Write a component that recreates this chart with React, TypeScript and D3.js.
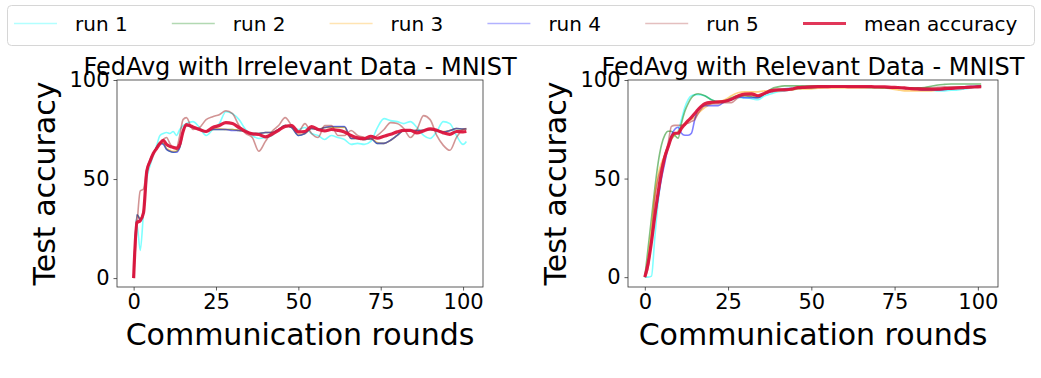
import { useEffect, useRef } from 'react';
import * as d3 from 'd3';

const width = 1041;
const height = 378;
const font = 'DejaVu Sans, sans-serif';

const rounds = [
  0, 1, 2, 3, 4, 5, 6, 7, 8, 9, 10, 11, 12, 13, 14, 15, 16,
  18, 20, 22, 24, 26, 28, 30, 32, 34, 36, 38, 40, 42, 44, 46, 48, 50, 52, 54, 56,
  58, 60, 62, 64, 66, 68, 70, 72, 74, 76, 78, 80, 82, 84, 86, 88, 90, 92, 94, 96,
  98, 100, 101,
];

const runLabels = ['run 1', 'run 2', 'run 3', 'run 4', 'run 5'];
const runColors = ['#00ffff', '#008000', '#ffa500', '#0000ff', '#a52a2a'];
const meanColor = '#dc143c';
const xTicks = [0, 25, 50, 75, 100];
const yTicks = [0, 50, 100];

// ---- FedAvg with Irrelevant Data ----
const irrRun1 = [
  0, 27, 14, 33, 50, 57, 62, 67, 72, 73, 73.5, 73, 74, 72, 75, 77, 78,
  79, 76, 72, 75, 78, 84, 83, 80, 75, 72, 70.5, 71, 72, 75, 77, 76, 75, 76, 73, 72,
  70, 72, 71, 70, 67.5, 68, 67.5, 69, 76, 80.5, 79.5, 79, 78, 79, 76, 72, 70.5, 74, 79, 78,
  72, 67.5, 69,
];
const irrRun2 = [
  0, 32, 30, 33, 54, 59, 63, 66, 68, 68, 65, 64, 63.5, 64, 66, 74, 77,
  76, 75, 74, 75, 75, 75, 75, 74.5, 74, 73, 73, 73.5, 73.5, 75, 77, 76, 72, 73, 75.5, 75,
  76, 76.3, 76.3, 76.3, 70.5, 70.5, 70, 70.5, 68, 68, 69.6, 72, 74.5, 74.5, 74.5, 74.6, 75, 74.5, 73.8, 74.5,
  75.5, 75.3, 75.3,
];
const irrRun3 = [
  0, 31, 30, 34, 53, 59, 63, 66, 68.5, 68, 65.5, 64.5, 64, 64, 66.5, 74, 77,
  76.5, 75, 74, 75, 75.5, 75, 75, 74.5, 74, 73, 73, 73.5, 73.5, 75, 77, 76, 72.5, 73, 75.5, 75,
  76, 76, 76, 76, 70.5, 70.5, 70, 70.5, 68.5, 68, 69.5, 72, 74.5, 74.5, 74.5, 74.5, 75, 74.5, 74, 74.5,
  75.5, 75, 75,
];
const irrRun4 = [
  0, 32, 29.5, 33, 54, 59.5, 63, 66, 68, 67.5, 65, 64, 63.5, 63.5, 66, 74.5, 77,
  76, 75, 74, 75, 75, 75, 74.5, 74.5, 74, 73, 73, 73.5, 73.5, 75, 77, 76, 72, 73, 75.5, 75,
  76, 76.5, 76.5, 76.5, 70.5, 70.5, 70, 70.5, 68, 68, 69.6, 72, 74.5, 74.5, 74.5, 74.6, 75, 74.5, 73.8, 74.5,
  75.5, 75.3, 75.3,
];
const irrRun5 = [
  0, 26, 44, 45, 55, 60, 63, 66, 68, 70, 71, 68, 66, 66, 72, 80, 81,
  75, 76, 80, 81.5, 82.5, 84.5, 83, 77, 73, 71, 64, 69, 74, 77, 81, 77, 74, 78, 73, 71,
  77, 77, 72, 72, 74.5, 72, 71, 70, 72, 75, 78.5, 78, 75.5, 71, 75, 82, 80, 72, 67, 64.5,
  71, 75, 75.5,
];
const irrMean = [
  0, 28, 29, 33, 54, 59, 63, 65.5, 68, 69.5, 67.5, 66.5, 66, 65.5, 67.5, 74, 77.5,
  76.3, 75, 74, 76, 77, 78.5, 78, 76, 74, 72.8, 72.5, 71.3, 72.6, 74.6, 76.6, 77, 73.8, 74, 76.5, 75,
  74.3, 75, 74.6, 73.8, 72, 70.8, 70.4, 71.6, 70.6, 71.6, 72.6, 73.8, 74.6, 74.6, 73.3, 74.3, 75.3, 74.6, 73.3, 72.6,
  74, 73.8, 74,
];

// ---- FedAvg with Relevant Data ----
const relRun1 = [
  0, 0, 0.5, 20, 38, 52, 60, 66, 70, 72, 74, 80, 86, 90, 92, 92.5, 92.5,
  92, 90, 89, 89, 90, 91, 91, 90.5, 90, 92, 93, 94, 94.5, 95, 95.5, 95.8, 96, 96.3, 96.5, 96.5,
  96.5, 96.5, 96.5, 96.3, 96.2, 96, 96, 96, 96, 96, 96, 95.8, 95.5, 95, 95, 94.5, 94.5, 94.8, 95, 95.5,
  96, 96.5, 96.5,
];
const relRun2 = [
  0, 15, 30, 45, 58, 67, 72, 74, 74, 72, 70.5, 78, 84, 88, 91, 92.5, 93,
  92, 90, 89, 89.5, 91, 92, 92, 91.5, 91, 93, 95.5, 96.5, 97, 97, 97, 97, 97, 97, 97, 96.8,
  96.8, 96.8, 96.6, 96.5, 96.5, 96.3, 96.2, 96, 96, 96, 96, 96, 96, 96.2, 96.8, 97.5, 97.8, 98, 98, 98,
  98, 98, 98,
];
const relRun3 = [
  0, 10, 25, 42, 52, 58, 62, 67, 70, 72, 74, 76, 78, 79, 80, 81, 83,
  86, 88, 89, 90, 92, 93.5, 94, 94, 94, 94.5, 94, 94.5, 95, 95, 95.5, 95.5, 95.5, 95.8, 96, 96,
  96, 96, 96, 96, 96, 96, 96, 96, 95.5, 95, 94.5, 94.5, 94.5, 94.5, 94.5, 95, 95.5, 96, 96, 96.5,
  96.5, 97, 97,
];
const relRun4 = [
  0, 8, 18, 30, 40, 50, 58, 66, 72, 75, 76, 73, 72, 72, 73, 80, 85,
  87, 87, 87, 89, 90, 91.5, 91, 91, 91, 93, 94, 95, 95.5, 95.8, 96, 96.3, 96.5, 96.5, 96.5, 96.7,
  96.7, 96.7, 96.7, 96.7, 96.5, 96.5, 96.3, 96.3, 96, 96, 95.8, 95.5, 95.2, 95, 95, 95, 95.2, 95.5, 96, 96.5,
  96.8, 97, 97,
];
const relRun5 = [
  0, 5, 20, 40, 50, 56, 62, 68, 76.5, 77, 77, 77, 77.5, 78, 79, 80, 83,
  87, 88, 88, 88.5, 88.5, 91, 92, 92, 92, 93, 94.5, 95, 95.3, 95.5, 95.8, 96, 96, 96.3, 96.5, 96.5,
  96.5, 96.5, 96.5, 96.5, 96.5, 96.5, 96.5, 96.3, 96, 95.8, 95.5, 95.5, 96, 96, 96, 96.3, 96.5, 96.5, 96.5, 96.5,
  96.5, 96.5, 96.5,
];
const relMean = [
  0, 7, 18, 31, 43, 53, 61, 66, 71, 73, 73, 75.5, 77.5, 79.4, 81, 83, 85,
  88, 88.7, 88.9, 89.2, 90.2, 91.9, 92.9, 93, 92, 93.3, 94.6, 95, 95, 95.4, 96.1, 96.3, 96.5, 96.6, 96.6, 96.7,
  96.7, 96.7, 96.6, 96.6, 96.6, 96.6, 96.5, 96.5, 96.3, 96.2, 96, 95.6, 95.5, 95.3, 95.3, 95.4, 95.6, 95.8, 96, 96.2,
  96.4, 96.5, 96.6,
];

const panels = [
  {
    title: 'FedAvg with Irrelevant Data - MNIST',
    left: 117,
    right: 483,
    yMin: -4.5,
    runs: [irrRun1, irrRun2, irrRun3, irrRun4, irrRun5],
    mean: irrMean,
  },
  {
    title: 'FedAvg with Relevant Data - MNIST',
    left: 628,
    right: 998,
    yMin: -5,
    runs: [relRun1, relRun2, relRun3, relRun4, relRun5],
    mean: relMean,
  },
];

const plotTop = 80;
const plotBottom = 287;

function App() {
  const ref = useRef<SVGSVGElement>(null);

  useEffect(() => {
    const svg = d3.select(ref.current);
    svg.selectAll('*').remove();

    panels.forEach((p) => {
      const g = svg.append('g');
      const x = d3.scaleLinear().domain([-5.05, 106.05]).range([p.left, p.right]);
      const y = d3.scaleLinear().domain([p.yMin, 100]).range([plotBottom, plotTop]);

      const line = d3
        .line<number>()
        .x((_, i) => x(rounds[i]))
        .y((d) => y(d))
        .curve(d3.curveMonotoneX);

      p.runs.forEach((vals, i) => {
        g.append('path')
          .attr('d', line(vals))
          .attr('fill', 'none')
          .attr('stroke', runColors[i])
          .attr('stroke-opacity', 0.5)
          .attr('stroke-width', 1.6);
      });

      g.append('path')
        .attr('d', line(p.mean))
        .attr('fill', 'none')
        .attr('stroke', meanColor)
        .attr('stroke-opacity', 0.95)
        .attr('stroke-width', 3.2);

      // axes frame
      g.append('rect')
        .attr('x', p.left)
        .attr('y', plotTop)
        .attr('width', p.right - p.left)
        .attr('height', plotBottom - plotTop)
        .attr('fill', 'none')
        .attr('stroke', '#333')
        .attr('stroke-width', 0.8);

      const xAxis = g
        .append('g')
        .attr('transform', `translate(0,${plotBottom})`)
        .call(d3.axisBottom(x).tickValues(xTicks).tickSize(3.5).tickSizeOuter(0).tickPadding(4));
      const yAxis = g
        .append('g')
        .attr('transform', `translate(${p.left},0)`)
        .call(d3.axisLeft(y).tickValues(yTicks).tickSize(3.5).tickSizeOuter(0).tickPadding(4));

      [xAxis, yAxis].forEach((a) => {
        a.select('.domain').remove();
        a.selectAll('line').attr('stroke', '#333').attr('stroke-width', 0.8);
        a.selectAll('text')
          .attr('fill', '#000')
          .style('font-family', font)
          .style('font-size', '21px');
      });

      g.append('text')
        .attr('x', (p.left + p.right) / 2)
        .attr('y', 75)
        .attr('text-anchor', 'middle')
        .style('font-family', font)
        .style('font-size', '24px')
        .text(p.title);

      g.append('text')
        .attr('x', (p.left + p.right) / 2)
        .attr('y', 345)
        .attr('text-anchor', 'middle')
        .style('font-family', font)
        .style('font-size', '30px')
        .text('Communication rounds');

      g.append('text')
        .attr('transform', `translate(${p.left - 62},${(plotTop + plotBottom) / 2}) rotate(-90)`)
        .attr('text-anchor', 'middle')
        .style('font-family', font)
        .style('font-size', '30px')
        .text('Test accuracy');
    });

    // legend
    const legend = svg.append('g');
    legend
      .append('rect')
      .attr('x', 7.5)
      .attr('y', 5.5)
      .attr('width', 1027)
      .attr('height', 40)
      .attr('rx', 4)
      .attr('fill', '#fff')
      .attr('stroke', '#d6d6d6');

    const items = [
      ...runLabels.map((label, i) => ({ label, color: runColors[i], opacity: 0.3 })),
      { label: 'mean accuracy', color: meanColor, opacity: 0.85 },
    ];
    const step = 157.8;
    items.forEach((it, i) => {
      const x0 = 14 + i * step;
      legend
        .append('line')
        .attr('x1', x0)
        .attr('x2', x0 + 43)
        .attr('y1', 23.5)
        .attr('y2', 23.5)
        .attr('stroke', it.color)
        .attr('stroke-opacity', it.opacity)
        .attr('stroke-width', i === 5 ? 3 : 1.6);
      legend
        .append('text')
        .attr('x', x0 + 61)
        .attr('y', 30.5)
        .style('font-family', font)
        .style('font-size', '20px')
        .text(it.label);
    });
  }, []);

  return (
    <div style={{ position: 'absolute', left: 0, top: 0 }}>
      <svg ref={ref} width={width} height={height} style={{ display: 'block', background: '#fff' }} />
    </div>
  );
}

export default App;
